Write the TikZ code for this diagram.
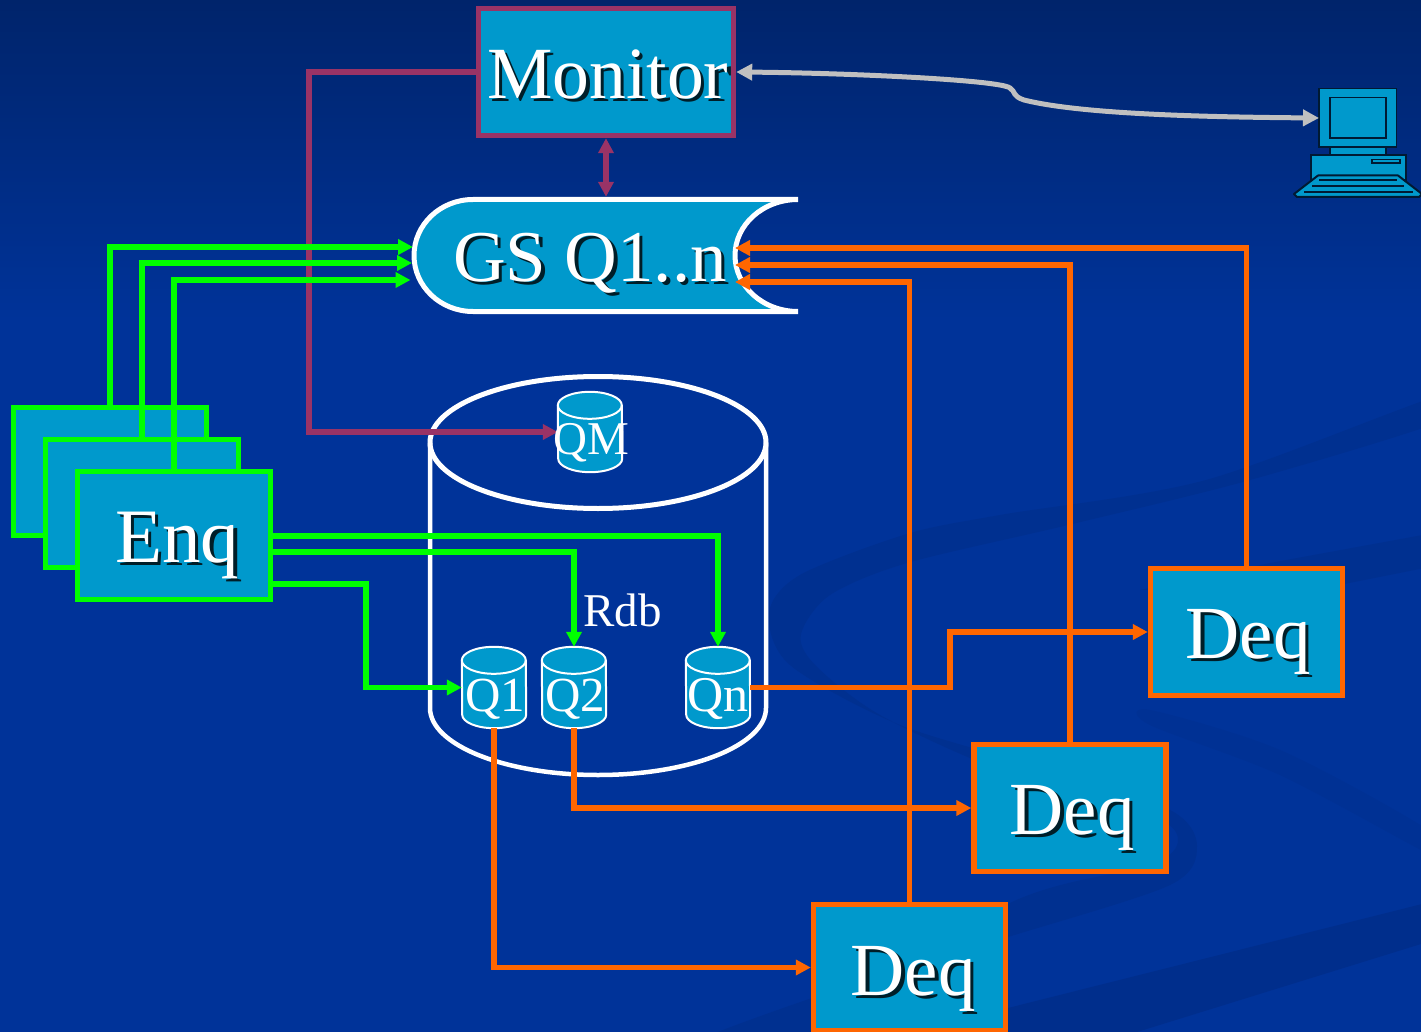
\documentclass[tikz,border=0pt]{standalone}
\usepackage{fontspec}
\setmainfont{Liberation Serif}
\usetikzlibrary{arrows.meta,calc}
\definecolor{bgtop}{HTML}{00246B}
\definecolor{bgmain}{HTML}{003399}
\definecolor{bandc}{HTML}{002E8C}
\definecolor{bandm}{HTML}{003090}
\definecolor{bandl}{HTML}{003194}
\definecolor{boxblue}{HTML}{0099CC}
\definecolor{orangec}{HTML}{FF6600}
\definecolor{greenc}{HTML}{00FF00}
\definecolor{maroonc}{HTML}{993366}
\definecolor{grayc}{HTML}{C0C0C0}
\definecolor{pcdark}{HTML}{001A33}
\tikzset{
  x=1pt,y=-1pt,
  boxbase/.style={draw,fill=boxblue,line width=5.4pt,inner sep=0pt,minimum width=193pt,minimum height=127pt},
  enqbox/.style={boxbase,draw=greenc,minimum height=128pt},
  deqbox/.style={boxbase,draw=orangec,minimum width=192pt},
  monbox/.style={boxbase,draw=maroonc,minimum width=255pt},
  dbnode/.style={inner sep=0pt,minimum width=64pt,minimum height=81pt},
  conn/.style={line width=5.4pt,-{Triangle[length=15pt,width=15pt]}},
  greenline/.style={conn,draw=greenc,color=greenc},
  orangeline/.style={conn,draw=orangec,color=orangec},
  maroonline/.style={conn,draw=maroonc,color=maroonc},
  tag/.style={anchor=base west,inner sep=0pt,text=white},
  shade text/.style={anchor=base west,inner sep=0pt,text=black,opacity=.8},
}
\newcommand{\bigtag}[5]{%
  \node[shade text,font=\fontsize{#4}{#4}\selectfont] (#1s) at (#2+3.5,#3+3.5) {#5};
  \node[tag,font=\fontsize{#4}{#4}\selectfont] (#1) at (#2,#3) {#5};}
\newcommand{\dbcyl}[1]{%
  \path[draw=white,line width=2pt,fill=boxblue]
    ([yshift=-13.5pt]#1.north west) arc[start angle=180,end angle=0,x radius=32pt,y radius=13.5pt]
    -- ([yshift=13.5pt]#1.south east) arc[start angle=360,end angle=180,x radius=32pt,y radius=13.5pt] -- cycle;
  \draw[white,line width=2pt] ([yshift=-13.5pt]#1.north west) arc[start angle=180,end angle=360,x radius=32pt,y radius=13.5pt];}
\begin{document}
\begin{tikzpicture}
\useasboundingbox (0,0) rectangle (1421,1032);
% background
\fill[bgmain] (0,0) rectangle (1421,1032);
\shade[top color=bgtop,bottom color=bgmain] (0,0) rectangle (1421,320);
\fill[bandm] plot[smooth cycle] coordinates {(1450,392) (1206,480) (1000,515) (907,534) (800,575) (769,613) (790,665) (900,725) (1050,770) (1170,810) (1197,846) (1170,885) (1008,937) (850,985) (690,1045) (790,1045) (1008,904) (1150,865) (1178,840) (1150,815) (1000,770) (880,715) (815,665) (801,634) (830,595) (907,563) (1068,525) (1250,480) (1450,418)};
\fill[bandm] (1450,530) -- (1270,563) -- (1140,590) -- (1344,584) -- (1450,563) -- cycle;
\fill[bandl] plot[smooth cycle] coordinates {(1150,710) (1280,750) (1425,828) (1450,860) (1425,852) (1280,775) (1150,725)};
\fill[bandc] (1450,897) -- (1008,1008) -- (880,1045) -- (1095,1045) -- (1450,935) -- cycle;

% computer
\begin{scope}[pcdark,line width=1.6pt]
  \filldraw[fill=boxblue] (1330,146) rectangle (1386,156);
  \filldraw[fill=boxblue] (1311,155) rectangle (1406,180);
  \filldraw[fill=boxblue] (1319,88.5) rectangle (1396.5,147);
  \filldraw[fill=boxblue] (1330,97.5) rectangle (1386,138);
  \filldraw[fill=boxblue] (1372,159.5) rectangle (1400,163);
  \filldraw[fill=boxblue,line width=2pt,line join=round] (1318,175.5) -- (1398,175.5) -- (1422,194) -- (1419,197) -- (1297,197) -- (1294,194) -- cycle;
  \draw[line width=2pt] (1319,180.5) -- (1397,180.5);
  \draw[line width=2pt] (1312,186.5) -- (1404,186.5);
  \draw[line width=2pt] (1304,192) -- (1413,192);
\end{scope}

% large cylinder
\draw[white,line width=4.5pt] (430,443) -- (430,708) arc[start angle=180,end angle=360,x radius=168pt,y radius=67pt] -- (766,443);
\draw[white,line width=5pt] (598,442.5) ellipse[x radius=168pt,y radius=66pt];

% small cylinders
\node[dbnode,minimum height=80pt] (qm) at (590,432) {};
\node[dbnode] (q1) at (494,687.5) {};
\node[dbnode] (q2) at (574,687.5) {};
\node[dbnode] (qn) at (718,687.5) {};
\dbcyl{qm}\dbcyl{q1}\dbcyl{q2}\dbcyl{qn}

% monitor box and queue shape
\node[monbox] (mon) at (606,72) {};
\path[draw=white,line width=5pt,fill=boxblue] (798,199.5) -- (473,199.5) arc[start angle=90,end angle=270,x radius=59pt,y radius=56pt] -- (798,311.5) arc[start angle=270,end angle=90,x radius=63pt,y radius=56pt];
\node[inner sep=0pt,minimum width=386pt,minimum height=117pt] (gs) at (605,255.5) {};

% boxes
\node[enqbox] (enqa) at (110,471.5) {};
\node[enqbox] (enqb) at (142,503.5) {};
\node[enqbox] (enqc) at (174,535.5) {};
\node[deqbox] (deqa) at (1246.5,632) {};
\node[deqbox] (deqb) at (1070,808) {};
\node[deqbox,minimum height=126pt] (deqc) at (909.5,967.5) {};

% connector end points
\coordinate (ea) at (110,405);
\coordinate (eb) at (142,437);
\coordinate (ec) at (174,469);
\coordinate (gsla) at (413,247);
\coordinate (gslb) at (412,263);
\coordinate (gslc) at (410.5,280);
\coordinate (gsra) at (735,248);
\coordinate (gsrb) at (735,265);
\coordinate (gsrc) at (735,282);
\coordinate (eoa) at (271,536);
\coordinate (eob) at (271,552);
\coordinate (eoc) at (271,584);
\coordinate (benda) at (366,640);
\coordinate (bendb) at (950,660);
\coordinate (bendc) at (309,250);
\coordinate (pc) at (1319,118);

% connectors
\draw[maroonline] (mon.west) -| (bendc) |- (qm.west);
\draw[maroonline,{Triangle[length=15pt,width=15pt]}-{Triangle[length=15pt,width=15pt]}] (mon.south) -- (gs.north -| mon.south);
\draw[greenline] (ea) |- (gsla);
\draw[greenline] (eb) |- (gslb);
\draw[greenline] (ec) |- (gslc);
\draw[greenline] (eoa) -| (qn.north);
\draw[greenline] (eob) -| (q2.north);
\draw[greenline] (eoc) -| (benda) |- (q1.west);
\draw[orangeline] (deqa.north) |- (gsra);
\draw[orangeline] (deqb.north) |- (gsrb);
\draw[orangeline] (deqc.north) |- (gsrc);
\draw[orangeline] (qn.east) -| (bendb) |- (deqa.west);
\draw[orangeline] (q2.south) |- (deqb.west);
\draw[orangeline] (q1.south) |- (deqc.west);
\draw[grayc,line width=5pt,{Triangle[length=16pt,width=16pt]}-{Triangle[length=16pt,width=16pt]}]
  (mon.east) .. controls (850,73) and (1000,80) .. (1010,88) .. controls (1016,92) and (1012,96) .. (1024,100) .. controls (1080,114) and (1200,117) .. (pc);

% labels
\bigtag{monl}{487}{98.5}{73.6}{Monitor}
\bigtag{gsl}{453}{281}{73}{GS Q1..n}
\bigtag{enql}{115}{562}{77}{Enq}
\bigtag{deqal}{1185.5}{658}{75}{Deq}
\bigtag{deqbl}{1009.5}{834}{75}{Deq}
\bigtag{deqcl}{850.5}{995}{75}{Deq}
\node[tag,font=\fontsize{47}{47}\selectfont] (qml) at (553,454) {QM};
\node[tag,font=\fontsize{49}{49}\selectfont] (q1l) at (465,711) {Q1};
\node[tag,font=\fontsize{49}{49}\selectfont] (q2l) at (545,711) {Q2};
\node[tag,font=\fontsize{50}{50}\selectfont] (qnl) at (687,711) {Qn};
\node[tag,font=\fontsize{47}{47}\selectfont] (rdbl) at (583,626) {Rdb};
\end{tikzpicture}
\end{document}
